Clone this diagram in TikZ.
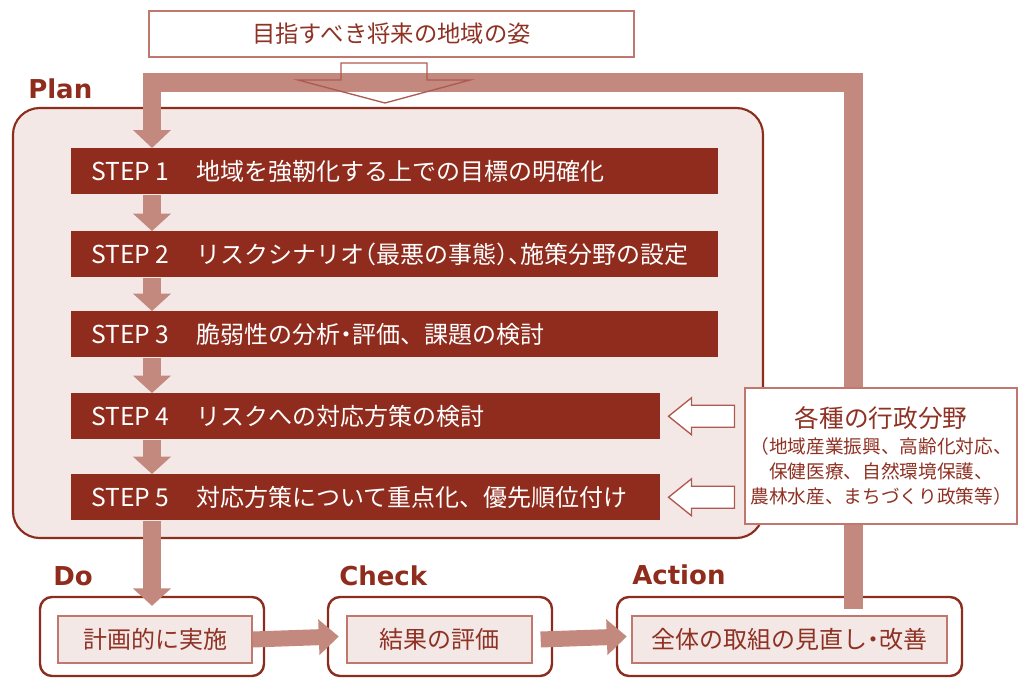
\documentclass[tikz,border=0pt]{standalone}
\usepackage{fontspec}
\setmainfont{Noto Sans CJK JP}
\newfontfamily\labfont{DejaVu Sans}
\usetikzlibrary{arrows.meta,calc}
\definecolor{dred}{RGB}{143,44,29}
\definecolor{bord}{RGB}{140,45,30}
\definecolor{arr}{RGB}{195,137,127}
\definecolor{pinkbg}{RGB}{243,232,230}
\definecolor{lbord}{RGB}{192,120,110}
\definecolor{obord}{RGB}{175,90,80}
\definecolor{txt}{RGB}{143,50,36}
\newcommand\narL[1]{\makebox[0.5em][l]{#1}}
\newcommand\narR[1]{\makebox[0.5em][r]{#1}}
\newcommand\narC[1]{\makebox[0.5em][c]{#1}}
\newcommand\steplab[1]{\makebox[78.75pt][l]{\fontsize{18.5pt}{20pt}\selectfont #1}}
\begin{document}
\begin{tikzpicture}[x=0.75pt,y=-0.75pt,
  planbox/.style={draw=bord, line width=1.6pt, fill=pinkbg, rounded corners=20pt,
    minimum width=562.5pt, minimum height=322.5pt, inner sep=0pt},
  stepbar/.style={fill=dred, text=white, anchor=north west, minimum height=34.5pt,
    inner xsep=15pt, inner ysep=0pt, font=\fontsize{18pt}{20pt}\selectfont},
  thickarr/.style={draw=arr, line width=13.5pt, -{Triangle[length=13pt,width=27.75pt]}},
  loopbar/.style={draw=arr, line width=14pt, line join=miter, -{Triangle[length=13.5pt,width=27.75pt]}},
  harr/.style={draw=arr, line width=12pt, -{Triangle[length=15pt,width=26pt]}},
  openarr/.style={draw=obord, line width=1pt, line join=miter},
  whitebox/.style={draw=lbord, line width=1pt, fill=white, text=txt, inner sep=0pt},
  outerbox/.style={draw=bord, line width=1.8pt, fill=white, rounded corners=9pt,
    minimum height=59.25pt, inner sep=0pt},
  innerbox/.style={draw=lbord, line width=1pt, fill=pinkbg, minimum height=35.25pt,
    text=txt, inner sep=0pt, font=\fontsize{18pt}{20pt}\selectfont},
  phase/.style={font=\labfont\bfseries\fontsize{19.5pt}{22pt}\selectfont, text=dred,
    anchor=base west, inner sep=0pt}
]
\useasboundingbox (0,0) rectangle (1018,678);
\coordinate (lx) at (152,0);
\coordinate (cy) at (0,82.5);

% Plan container
\node[planbox] (plan) at (388,323) {};

% bottom boxes
\node[outerbox, minimum width=168pt] (do) at (152,636.5) {};
\node[outerbox, minimum width=168pt] (check) at (440,636.5) {};
\node[outerbox, minimum width=258.75pt] (action) at (789.5,636.5) {};
\node[innerbox, minimum width=145.5pt] (doin) at (155,639.5) {計画的に実施};
\node[innerbox, minimum width=138.75pt] (checkin) at (439.5,639.5) {結果の評価};
\node[innerbox, minimum width=236.25pt] (actionin) at (789.5,639.5) {全体の取組の見直し\narC{・}改善};

% top box
\node[whitebox, minimum width=363.75pt, minimum height=34.5pt,
  font=\fontsize{17.5pt}{20pt}\selectfont] (goal) at (391.5,34) {目指すべき将来の地域の姿};

% phase labels
\node[phase] (lplan) at (28,98) {Plan};
\node[phase] (ldo) at (53,585) {Do};
\node[phase] (lcheck) at (339,585) {Check};
\node[phase] (laction) at (632,584) {Action};

% steps
\node[stepbar, minimum width=485.25pt] (s1) at (71,148)
  {\makebox[455.25pt][l]{\steplab{STEP 1}地域を強靭化する上での目標の明確化}};
\node[stepbar, minimum width=485.25pt] (s2) at (71,231)
  {\makebox[455.25pt][l]{\steplab{STEP 2}リスクシナリオ\narR{（}最悪の事態\narL{）}\narL{、}施策分野の設定}};
\node[stepbar, minimum width=485.25pt] (s3) at (71,311)
  {\makebox[455.25pt][l]{\steplab{STEP 3}脆弱性の分析\narC{・}評価、課題の検討}};
\node[stepbar, minimum width=441.75pt] (s4) at (71,393)
  {\makebox[411.75pt][l]{\steplab{STEP 4}リスクへの対応方策の検討}};
\node[stepbar, minimum width=441.75pt] (s5) at (71,474)
  {\makebox[411.75pt][l]{\steplab{STEP 5}対応方策について重点化、優先順位付け}};

% feedback loop
\coordinate (lb) at ($(action.north)+(64,13)$);
\draw[loopbar] (lb) -- (lb |- cy) -- (lx |- cy) -- (s1.north -| lx);

% open arrow from goal
\draw[openarr] (385,103) -- (470,80) -- (427,80) -- (427,63) -- (341,63) -- (341,80) -- (298,80) -- cycle;

% right info box
\node[whitebox, minimum width=204pt, minimum height=102pt, align=center,
  font=\fontsize{14pt}{18.75pt}\selectfont] (admin) at (881,456)
  {{\fontsize{18.5pt}{18.75pt}\selectfont 各種の行政分野}\\[1pt]
   （地域産業振興、高齢化対応、\\保健医療、自然環境保護、\\農林水産、まちづくり政策等）};

% open arrows from admin box to steps 4 and 5
\draw[openarr, fill=white] ($(s4.east)+(8,0)$) -- ++(23,-18.5) -- ++(0,7.5) -- ++(43,0)
  -- ++(0,22) -- ++(-43,0) -- ++(0,7.5) -- cycle;
\draw[openarr, fill=white] ($(s5.east)+(8,0)$) -- ++(23,-18.5) -- ++(0,7.5) -- ++(43,0)
  -- ++(0,22) -- ++(-43,0) -- ++(0,7.5) -- cycle;

% step arrows
\draw[thickarr] (s1.south -| lx) -- (s2.north -| lx);
\draw[thickarr] (s2.south -| lx) -- (s3.north -| lx);
\draw[thickarr] (s3.south -| lx) -- (s4.north -| lx);
\draw[thickarr] (s4.south -| lx) -- (s5.north -| lx);
\draw[thickarr] (s5.south -| lx) -- ($(do.north -| lx)+(0,10)$);

% horizontal arrows
\draw[harr] (doin.east) -- ($(check.west)+(12,0)$);
\draw[harr] ($(checkin.east)+(8,0)$) -- ($(action.west)+(11,0)$);
\end{tikzpicture}
\end{document}
